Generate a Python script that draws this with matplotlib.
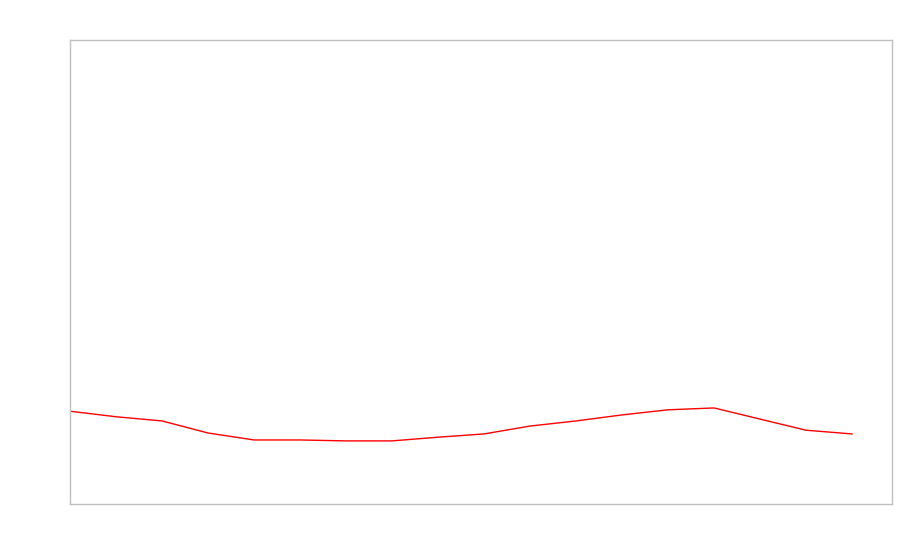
import matplotlib
matplotlib.use("Agg")
import matplotlib.pyplot as plt

# series values (no labels shown on the chart)
steps = list(range(18))
values = [20.0, 18.8, 17.9, 15.3, 13.8, 13.8, 13.6, 13.6, 14.4,
          15.1, 16.8, 17.9, 19.2, 20.3, 20.7, 18.3, 15.9, 15.1]

fig = plt.figure(figsize=(9, 5.6), dpi=100)
ax = fig.add_axes([70 / 900, 56 / 560, 822 / 900, 464 / 560])

ax.plot(steps, values, color="red", linewidth=1.0)

ax.set_xlim(0, 17.87)
ax.set_ylim(0, 100)
ax.set_xticks([])
ax.set_yticks([])
for spine in ax.spines.values():
    spine.set_color("#c0c0c0")
    spine.set_linewidth(1.0)

fig.savefig("out.png", dpi=100)
